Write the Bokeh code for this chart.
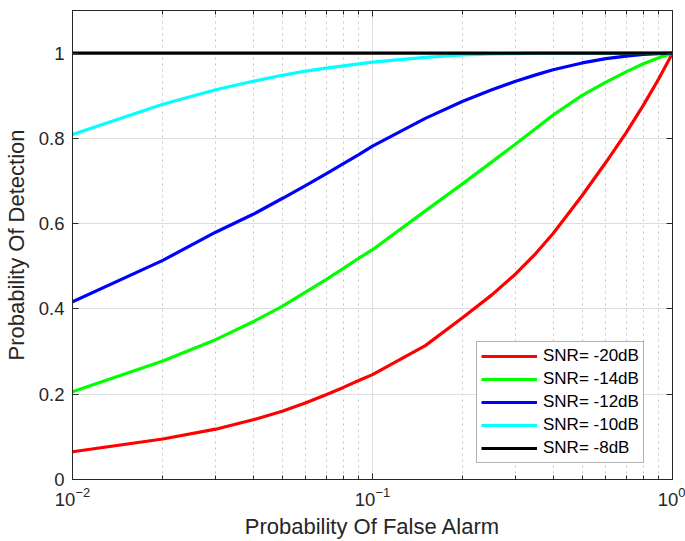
from bokeh.plotting import figure
from bokeh.models import (Range1d, LogAxis, LinearAxis, FixedTicker, LogTickFormatter,
                          Legend, LegendItem)
from bokeh.embed import file_html
from bokeh.resources import INLINE

# ---- data ----
pf = [0.01, 0.02, 0.03, 0.04, 0.05, 0.06, 0.07, 0.08, 0.09, 0.1,
      0.15, 0.2, 0.25, 0.3, 0.35, 0.4, 0.5, 0.6, 0.7, 0.8, 0.9, 1.0]
pd_m20 = [0.065, 0.095, 0.118, 0.140, 0.160, 0.180, 0.199, 0.216, 0.232, 0.246,
          0.314, 0.380, 0.433, 0.482, 0.530, 0.577, 0.666, 0.744, 0.813, 0.878, 0.940, 1.0]
pd_m14 = [0.206, 0.278, 0.328, 0.370, 0.406, 0.440, 0.469, 0.495, 0.519, 0.539,
          0.630, 0.694, 0.745, 0.787, 0.823, 0.855, 0.901, 0.932, 0.956, 0.975, 0.989, 1.0]
pd_m12 = [0.417, 0.514, 0.580, 0.622, 0.659, 0.690, 0.717, 0.741, 0.762, 0.782,
          0.847, 0.887, 0.914, 0.934, 0.949, 0.961, 0.977, 0.987, 0.993, 0.997, 0.999, 1.0]
pd_m10 = [0.809, 0.880, 0.914, 0.934, 0.948, 0.958, 0.965, 0.970, 0.975, 0.979,
          0.990, 0.996, 0.998, 0.999, 1.0, 1.0, 1.0, 1.0, 1.0, 1.0, 1.0, 1.0]
pd_m8 = [1.0] * len(pf)

series_labels = ["SNR= -20dB", "SNR= -14dB", "SNR= -12dB", "SNR= -10dB", "SNR= -8dB"]
series_colors = ["#ff0000", "#00ff00", "#0000ff", "#00ffff", "#000000"]

x_major_ticks = [0.01, 0.1, 1.0]
x_minor_ticks = [0.02, 0.03, 0.04, 0.05, 0.06, 0.07, 0.08, 0.09,
                 0.2, 0.3, 0.4, 0.5, 0.6, 0.7, 0.8, 0.9]
y_ticks = [0, 0.2, 0.4, 0.6, 0.8, 1]
y_tick_labels = ["0", "0.2", "0.4", "0.6", "0.8", "1"]

FONT = "Liberation Sans"
DARK = "#262626"

p = figure(width=685, height=541, x_axis_type="log",
           x_range=Range1d(0.01, 1.0), y_range=Range1d(0, 1.1),
           output_backend="svg", toolbar_location=None,
           min_border_left=72, min_border_right=13, min_border_top=10, min_border_bottom=61)
p.background_fill_color = "white"
p.border_fill_color = "white"
p.outline_line_color = DARK
p.outline_line_width = 1

xt = FixedTicker(ticks=x_major_ticks, minor_ticks=x_minor_ticks)
yt = FixedTicker(ticks=y_ticks, minor_ticks=[])

xa = p.xaxis[0]
xa.ticker = xt
xa.formatter = LogTickFormatter()
xa.axis_label = "Probability Of False Alarm"
ya = p.yaxis[0]
ya.ticker = yt
ya.major_label_overrides = {t: l for t, l in zip(y_ticks, y_tick_labels)}
ya.axis_label = "Probability Of Detection"

for ax in (xa, ya):
    ax.axis_line_color = DARK
    ax.major_tick_line_color = DARK
    ax.minor_tick_line_color = DARK
    ax.major_tick_in = 6
    ax.major_tick_out = 0
    ax.minor_tick_in = 4
    ax.minor_tick_out = 0
    ax.major_label_text_font = FONT
    ax.major_label_text_font_size = "18.5px"
    ax.major_label_text_color = DARK
    ax.axis_label_text_font = FONT
    ax.axis_label_text_font_size = "22px"
    ax.axis_label_text_font_style = "normal"
    ax.axis_label_text_color = DARK
ya.minor_tick_in = 0
xa.major_label_standoff = 7
ya.major_label_standoff = 8
xa.axis_label_standoff = 5
ya.axis_label_standoff = 7

# box axes (top / right) with inward ticks, no visible labels
top = LogAxis(ticker=FixedTicker(ticks=x_major_ticks, minor_ticks=x_minor_ticks))
right = LinearAxis(ticker=FixedTicker(ticks=y_ticks, minor_ticks=[]))
for ax in (top, right):
    ax.axis_line_color = DARK
    ax.major_tick_line_color = DARK
    ax.minor_tick_line_color = DARK
    ax.major_tick_in = 6
    ax.major_tick_out = 0
    ax.minor_tick_in = 4
    ax.minor_tick_out = 0
    ax.major_label_text_font_size = "1px"
    ax.major_label_text_alpha = 0
    ax.major_label_standoff = 0
right.minor_tick_in = 0
p.add_layout(top, "above")
p.add_layout(right, "right")

# grids
p.xgrid.ticker = xt
p.ygrid.ticker = yt
p.xgrid.grid_line_color = "#dedede"
p.ygrid.grid_line_color = "#dedede"
p.xgrid.minor_grid_line_color = "#c4c4c4"
p.xgrid.minor_grid_line_dash = "2 4"

renderers = []
for ys, c in zip([pd_m20, pd_m14, pd_m12, pd_m10, pd_m8], series_colors):
    r = p.line(pf, ys, line_color=c, line_width=3.2)
    renderers.append(r)

legend = Legend(items=[LegendItem(label=l, renderers=[r]) for l, r in zip(series_labels, renderers)],
                location=(404, 16))
legend.border_line_color = "#666666"
legend.border_line_width = 1
legend.background_fill_color = "white"
legend.background_fill_alpha = 1
legend.label_text_font = FONT
legend.label_text_font_size = "17px"
legend.label_text_color = "#000000"
legend.glyph_width = 56
legend.glyph_height = 20
legend.label_height = 20
legend.spacing = 3
legend.padding = 4
legend.margin = 0
legend.label_standoff = 6
p.add_layout(legend)

open("out.html", "w").write(file_html(p, INLINE))
